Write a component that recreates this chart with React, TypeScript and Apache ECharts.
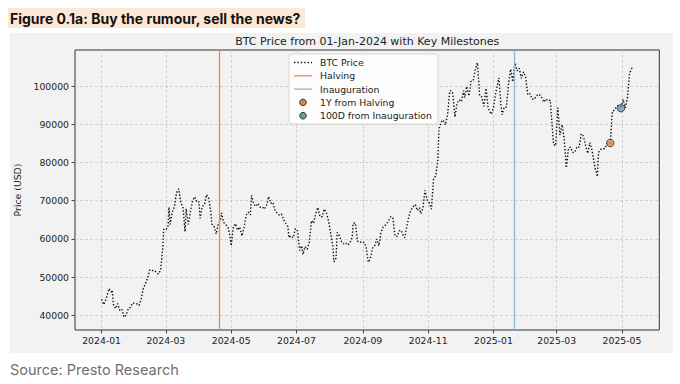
import React, { useEffect, useRef } from "react";
import * as echarts from "echarts";

const dates: string[] = [
  "2024-01-01","2024-01-03","2024-01-05","2024-01-08","2024-01-10","2024-01-11","2024-01-12","2024-01-14","2024-01-16","2024-01-18",
  "2024-01-20","2024-01-22","2024-01-24","2024-01-26","2024-01-28","2024-01-30","2024-02-01","2024-02-03","2024-02-05","2024-02-07",
  "2024-02-09","2024-02-11","2024-02-13","2024-02-15","2024-02-17","2024-02-19","2024-02-21","2024-02-23","2024-02-25","2024-02-27",
  "2024-02-28","2024-03-01","2024-03-03","2024-03-04","2024-03-05","2024-03-07","2024-03-09","2024-03-11","2024-03-13","2024-03-15",
  "2024-03-17","2024-03-19","2024-03-20","2024-03-22","2024-03-24","2024-03-26","2024-03-28","2024-03-30","2024-04-01","2024-04-02",
  "2024-04-04","2024-04-06","2024-04-08","2024-04-10","2024-04-12","2024-04-13","2024-04-15","2024-04-17","2024-04-19","2024-04-21",
  "2024-04-22","2024-04-24","2024-04-26","2024-04-28","2024-04-30","2024-05-01","2024-05-03","2024-05-05","2024-05-07","2024-05-09",
  "2024-05-11","2024-05-13","2024-05-15","2024-05-17","2024-05-19","2024-05-20","2024-05-22","2024-05-24","2024-05-26","2024-05-28",
  "2024-05-30","2024-06-01","2024-06-03","2024-06-05","2024-06-07","2024-06-09","2024-06-11","2024-06-13","2024-06-15","2024-06-17",
  "2024-06-19","2024-06-21","2024-06-23","2024-06-24","2024-06-26","2024-06-28","2024-06-30","2024-07-02","2024-07-04","2024-07-06",
  "2024-07-07","2024-07-09","2024-07-11","2024-07-13","2024-07-15","2024-07-17","2024-07-19","2024-07-21","2024-07-23","2024-07-25",
  "2024-07-27","2024-07-29","2024-07-31","2024-08-02","2024-08-04","2024-08-05","2024-08-07","2024-08-08","2024-08-10","2024-08-12",
  "2024-08-14","2024-08-16","2024-08-18","2024-08-20","2024-08-22","2024-08-23","2024-08-25","2024-08-27","2024-08-29","2024-08-31",
  "2024-09-02","2024-09-04","2024-09-06","2024-09-08","2024-09-10","2024-09-12","2024-09-14","2024-09-16","2024-09-18","2024-09-20",
  "2024-09-22","2024-09-24","2024-09-26","2024-09-27","2024-09-29","2024-10-01","2024-10-03","2024-10-05","2024-10-07","2024-10-09",
  "2024-10-10","2024-10-12","2024-10-14","2024-10-16","2024-10-18","2024-10-20","2024-10-22","2024-10-24","2024-10-25","2024-10-27",
  "2024-10-29","2024-10-31","2024-11-02","2024-11-04","2024-11-06","2024-11-08","2024-11-10","2024-11-11","2024-11-13","2024-11-15",
  "2024-11-17","2024-11-19","2024-11-21","2024-11-22","2024-11-24","2024-11-26","2024-11-28","2024-11-30","2024-12-02","2024-12-04",
  "2024-12-05","2024-12-07","2024-12-09","2024-12-11","2024-12-13","2024-12-15","2024-12-17","2024-12-19","2024-12-21","2024-12-23",
  "2024-12-25","2024-12-27","2024-12-30","2025-01-01","2025-01-03","2025-01-06","2025-01-08","2025-01-09","2025-01-11","2025-01-13",
  "2025-01-15","2025-01-17","2025-01-19","2025-01-21","2025-01-23","2025-01-25","2025-01-27","2025-01-29","2025-01-31","2025-02-02",
  "2025-02-04","2025-02-06","2025-02-08","2025-02-10","2025-02-12","2025-02-14","2025-02-17","2025-02-19","2025-02-21","2025-02-23",
  "2025-02-25","2025-02-26","2025-02-28","2025-03-02","2025-03-04","2025-03-06","2025-03-08","2025-03-10","2025-03-12","2025-03-14",
  "2025-03-16","2025-03-18","2025-03-20","2025-03-22","2025-03-24","2025-03-26","2025-03-28","2025-03-30","2025-04-01","2025-04-03",
  "2025-04-06","2025-04-08","2025-04-09","2025-04-11","2025-04-13","2025-04-15","2025-04-17","2025-04-20","2025-04-22","2025-04-24",
  "2025-04-26","2025-04-28","2025-04-30","2025-05-02","2025-05-04","2025-05-06","2025-05-08","2025-05-10","2025-05-11",
];

const prices: number[] = [
  44200,42800,44100,47000,46100,46600,42900,41800,43100,41300,
  41600,39500,40100,41800,42100,43300,43100,43000,42600,44300,
  47100,48300,49700,51900,51700,51800,51300,50800,51700,57000,
  62500,62400,63100,68300,63800,67000,68400,72100,73100,69500,
  68400,61900,67900,63800,67200,70000,71000,69600,69700,65400,
  68500,68900,71600,70600,67200,63900,63400,61300,63800,64900,
  66800,64300,63800,63100,60600,58200,62900,64000,62300,63100,
  60800,62900,66200,67000,66300,71400,69200,68500,69300,68300,
  68400,67800,68800,71100,69300,69600,67300,66800,66200,66500,
  65000,64100,63200,60300,60800,60300,62700,62100,57000,58200,
  55900,58000,57300,59200,64800,64100,66700,68200,65800,65800,
  67800,66800,64600,61400,58100,54000,55000,61700,60900,59300,
  58700,59000,58400,59000,60400,64100,64200,59400,59400,58900,
  59100,58000,53900,54800,57600,58100,60000,58200,61800,63200,
  63600,64300,65200,65800,65600,60800,60600,62100,62200,60600,
  60300,63200,66000,67600,68400,69000,67400,68200,66600,67900,
  72700,70200,69400,67800,75600,76500,80400,88700,90500,91100,
  89800,92300,98300,98900,98000,91900,95600,96400,95900,98800,
  97000,99900,97400,101200,101400,104300,106100,97500,97200,94700,
  99400,94200,92600,94400,98100,102100,95000,92500,94500,94500,
  100500,104400,101100,106100,104000,104700,102000,103700,102400,97700,
  98000,96600,96500,97400,97900,97500,95800,96600,96100,96300,
  88700,84700,84400,94300,87200,89900,86200,78600,83700,84000,
  82600,82700,84200,84000,87500,86900,84400,82400,85200,83100,
  78400,76300,82600,83400,83700,83600,84900,85100,93400,93700,
  94700,95000,94200,96500,94300,96800,103200,104600,104700,
];

const yTicks: number[] = [40000, 50000, 60000, 70000, 80000, 90000, 100000];
const xTicks: string[] = [
  "2024-01-01","2024-03-01","2024-05-01","2024-07-01","2024-09-01",
  "2024-11-01","2025-01-01","2025-03-01","2025-05-01",
];
const halvingDate = "2024-04-20";
const inaugurationDate = "2025-01-20";
const milestoneDates: string[] = ["2025-04-20", "2025-04-30"];
const milestoneValues: number[] = [85100, 94200];
const legendLabels: string[] = [
  "BTC Price", "Halving", "Inauguration", "1Y from Halving", "100D from Inauguration",
];
const headerText = "Figure 0.1a: Buy the rumour, sell the news?";
const chartTitle = "BTC Price from 01-Jan-2024 with Key Milestones";
const sourceText = "Source: Presto Research";
const yAxisName = "Price (USD)";

const ts = (s: string) => {
  const [y, m, d] = s.split("-").map(Number);
  return Date.UTC(y, m - 1, d);
};

const COL_HALV = "#e8875a";
const COL_INAUG = "#86b8cf";
const COL_M1 = "#dd8452";
const COL_M2 = "#64a0ab";
const SMALL_FONT = "DejaVu Sans";

export default function App() {
  const ref = useRef<HTMLDivElement>(null);
  useEffect(() => {
    if (!ref.current) return;
    const chart = echarts.init(ref.current, undefined, { renderer: "svg" });

    const xs = dates.map(ts);
    const first = xs[0];
    const last = xs[xs.length - 1];
    const xSpan = last - first;
    const xMin = first - 0.05 * xSpan;
    const xMax = last + 0.05 * xSpan;
    const pMin = Math.min(...prices);
    const pMax = Math.max(...prices);
    const ySpan = pMax - pMin;
    const yMin = pMin - 0.05 * ySpan;
    const yMax = pMax + 0.05 * ySpan;

    const seriesData = xs.map((x, i) => [x, prices[i]]);
    const markers = milestoneDates.map((d, i) => ({
      value: [ts(d), milestoneValues[i]],
      itemStyle: { color: i === 0 ? COL_M1 : COL_M2, borderColor: "#222", borderWidth: 0.9 },
    }));
    const xTickValues = xTicks.map(ts);

    const lgX = 289, lgY = 54, lgW = 149, lgH = 70;
    const rowY = [62.5, 75.8, 89.1, 102.4, 115.7];
    const hx0 = 294, hx1 = 312, tx = 320;
    const legendEls: any[] = [
      {
        type: "rect", z: 100,
        shape: { x: lgX, y: lgY, width: lgW, height: lgH, r: 2.5 },
        style: { fill: "rgba(255,255,255,0.82)", stroke: "#cfcfcf", lineWidth: 0.8 },
      },
      {
        type: "line", z: 101,
        shape: { x1: hx0, y1: rowY[0], x2: hx1, y2: rowY[0] },
        style: { stroke: "#111", lineWidth: 1.4, lineDash: [1.4, 2] },
      },
      {
        type: "line", z: 101,
        shape: { x1: hx0, y1: rowY[1], x2: hx1, y2: rowY[1] },
        style: { stroke: COL_HALV, lineWidth: 1.3 },
      },
      {
        type: "line", z: 101,
        shape: { x1: hx0, y1: rowY[2], x2: hx1, y2: rowY[2] },
        style: { stroke: COL_INAUG, lineWidth: 1.3 },
      },
      {
        type: "circle", z: 101,
        shape: { cx: (hx0 + hx1) / 2, cy: rowY[3], r: 3.3 },
        style: { fill: COL_M1, stroke: "#222", lineWidth: 0.9 },
      },
      {
        type: "circle", z: 101,
        shape: { cx: (hx0 + hx1) / 2, cy: rowY[4], r: 3.3 },
        style: { fill: COL_M2, stroke: "#222", lineWidth: 0.9 },
      },
      ...legendLabels.map((t, i) => ({
        type: "text", z: 101,
        x: tx, y: rowY[i],
        style: {
          text: t, fill: "#222", font: `9.3px "${SMALL_FONT}"`,
          textAlign: "left", textVerticalAlign: "middle",
        },
      })),
    ];

    const option: any = {
      animation: false,
      backgroundColor: "#ffffff",
      grid: {
        left: 75, right: 20.7, top: 50, bottom: 54,
        show: true, backgroundColor: "#f2f2f2", borderColor: "#333", borderWidth: 1,
      },
      xAxis: {
        type: "value",
        min: xMin, max: xMax,
        axisLine: { show: false },
        axisTick: {
          show: true, length: 3.5, inside: false,
          lineStyle: { color: "#333", width: 0.9 },
          customValues: xTickValues,
        },
        axisLabel: {
          customValues: xTickValues,
          formatter: (v: number) => {
            const d = new Date(v);
            return `${d.getUTCFullYear()}-${String(d.getUTCMonth() + 1).padStart(2, "0")}`;
          },
          color: "#222", fontFamily: SMALL_FONT, fontSize: 9.3, margin: 6,
        },
        splitLine: { show: true, lineStyle: { color: "#c9c9c9", width: 0.8, type: [3, 2] } },
      },
      yAxis: {
        type: "value",
        min: yMin, max: yMax,
        name: yAxisName, nameLocation: "middle", nameRotate: 90, nameGap: 53,
        nameTextStyle: { color: "#222", fontFamily: SMALL_FONT, fontSize: 9.3 },
        axisLine: { show: false },
        axisTick: {
          show: true, length: 3.5,
          lineStyle: { color: "#333", width: 0.9 },
          customValues: yTicks,
        },
        axisLabel: {
          customValues: yTicks,
          color: "#222", fontFamily: SMALL_FONT, fontSize: 9.3, margin: 6,
          formatter: (v: number) => String(Math.round(v)),
        },
        splitLine: { show: true, lineStyle: { color: "#c9c9c9", width: 0.8, type: [3, 2] } },
      },
      series: [
        {
          type: "line",
          data: seriesData,
          symbol: "none",
          lineStyle: { color: "#111", width: 1.4, type: [1.4, 1.9] },
          z: 3,
          markLine: {
            silent: true,
            symbol: ["none", "none"],
            label: { show: false },
            data: [
              { xAxis: ts(halvingDate), lineStyle: { color: COL_HALV, width: 1.3, type: "solid" } },
              { xAxis: ts(inaugurationDate), lineStyle: { color: COL_INAUG, width: 1.3, type: "solid" } },
            ],
          },
        },
        {
          type: "scatter",
          data: markers,
          symbol: "circle",
          symbolSize: 7.5,
          z: 5,
        },
      ],
      graphic: [
        {
          type: "rect", z: -10, silent: true,
          shape: { x: 10, y: 33, width: 663, height: 320 },
          style: { fill: "#f2f2f2" },
        },
        {
          type: "rect", z: 1, silent: true,
          shape: { x: 8, y: 8, width: 297, height: 20 },
          style: { fill: "#fde8d6" },
        },
        {
          type: "text", z: 2, x: 10, y: 18,
          style: {
            text: headerText, fill: "#111", font: 'bold 14px "Inter"',
            textAlign: "left", textVerticalAlign: "middle",
          },
        },
        {
          type: "text", z: 2, x: 367.2, y: 41,
          style: {
            text: chartTitle, fill: "#222", font: `11px "${SMALL_FONT}"`,
            textAlign: "center", textVerticalAlign: "middle",
          },
        },
        {
          type: "text", z: 2, x: 10, y: 369,
          style: {
            text: sourceText, fill: "#707070", font: '14.5px "Inter"',
            textAlign: "left", textVerticalAlign: "middle",
          },
        },
        ...legendEls,
      ],
    };
    chart.setOption(option);
    return () => chart.dispose();
  }, []);

  return (
    <div
      ref={ref}
      style={{ position: "absolute", left: 0, top: 0, width: 680, height: 384, background: "#fff" }}
    />
  );
}
